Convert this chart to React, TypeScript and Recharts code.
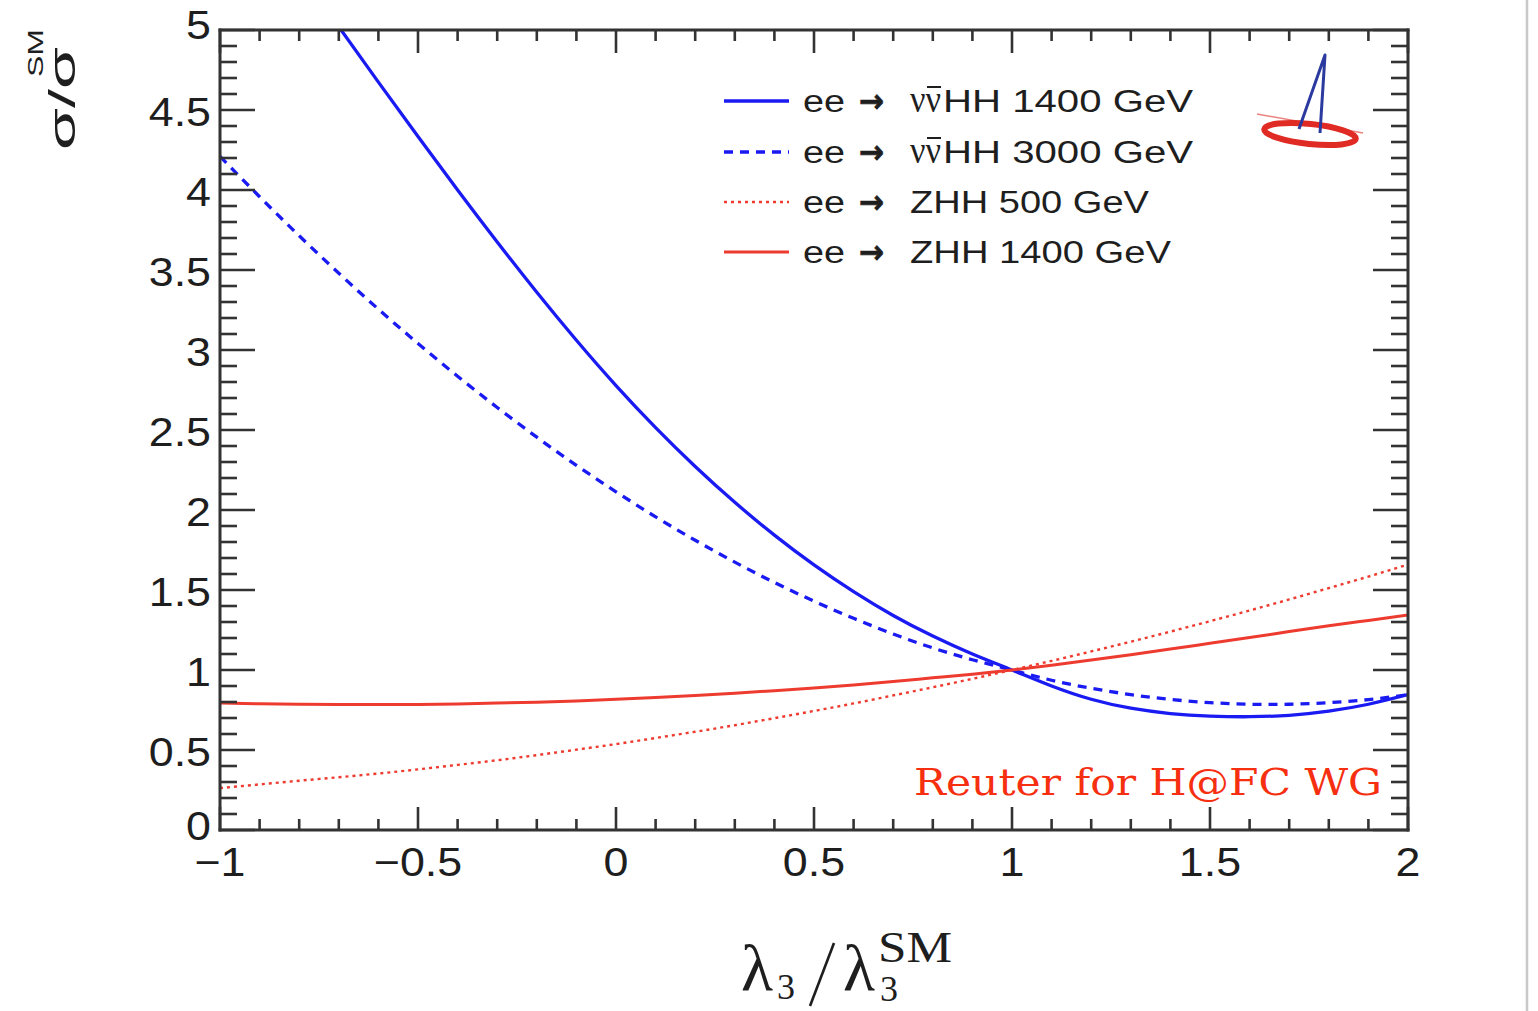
import React from 'react'
import { LineChart, Line, XAxis, YAxis } from 'recharts'

// λ3/λ3^SM grid, read every 0.1
const lambdaGrid = [
  -1, -0.9, -0.8, -0.7, -0.6, -0.5, -0.4, -0.3, -0.2, -0.1,
  0, 0.1, 0.2, 0.3, 0.4, 0.5, 0.6, 0.7, 0.8, 0.9,
  1, 1.1, 1.2, 1.3, 1.4, 1.5, 1.6, 1.7, 1.8, 1.9, 2,
]

// ee -> vvHH 1400 GeV (leaves the frame at the top near -0.69)
const vvHH1400 = [
  null, null, null, 5.02, 4.674, 4.334, 4.0, 3.675, 3.361, 3.061,
  2.778, 2.515, 2.272, 2.048, 1.843, 1.657, 1.49, 1.341, 1.212, 1.1,
  1.0, 0.9, 0.817, 0.761, 0.728, 0.712, 0.708, 0.717, 0.743, 0.786, 0.846,
]
// ee -> vvHH 3000 GeV
const vvHH3000 = [
  4.21, 3.958, 3.714, 3.48, 3.255, 3.041, 2.836, 2.641, 2.455, 2.279,
  2.114, 1.957, 1.811, 1.674, 1.547, 1.43, 1.323, 1.225, 1.138, 1.064,
  1.0, 0.936, 0.886, 0.846, 0.816, 0.796, 0.786, 0.786, 0.796, 0.815, 0.845,
]
// ee -> ZHH 500 GeV
const zhh500 = [
  0.262, 0.285, 0.308, 0.330, 0.353, 0.379, 0.407, 0.436, 0.468, 0.502,
  0.537, 0.575, 0.614, 0.655, 0.699, 0.744, 0.791, 0.841, 0.892, 0.945,
  1.00, 1.057, 1.116, 1.177, 1.240, 1.305, 1.372, 1.441, 1.512, 1.584, 1.659,
]
// ee -> ZHH 1400 GeV
const zhh1400 = [
  0.794, 0.789, 0.786, 0.784, 0.784, 0.785, 0.788, 0.793, 0.799, 0.807,
  0.817, 0.828, 0.840, 0.855, 0.871, 0.888, 0.907, 0.928, 0.951, 0.974,
  1.00, 1.03, 1.062, 1.096, 1.131, 1.167, 1.203, 1.24, 1.276, 1.31, 1.344,
]

const xTicks = [
  -1, -0.9, -0.8, -0.7, -0.6, -0.5, -0.4, -0.3, -0.2, -0.1,
  0, 0.1, 0.2, 0.3, 0.4, 0.5, 0.6, 0.7, 0.8, 0.9,
  1, 1.1, 1.2, 1.3, 1.4, 1.5, 1.6, 1.7, 1.8, 1.9, 2,
]
const yTicks = [
  0, 0.1, 0.2, 0.3, 0.4, 0.5, 0.6, 0.7, 0.8, 0.9,
  1, 1.1, 1.2, 1.3, 1.4, 1.5, 1.6, 1.7, 1.8, 1.9,
  2, 2.1, 2.2, 2.3, 2.4, 2.5, 2.6, 2.7, 2.8, 2.9,
  3, 3.1, 3.2, 3.3, 3.4, 3.5, 3.6, 3.7, 3.8, 3.9,
  4, 4.1, 4.2, 4.3, 4.4, 4.5, 4.6, 4.7, 4.8, 4.9, 5,
]

const BLUE = '#1a1af2'
const RED = '#ee3b30'
const INK = '#1e1e1e'
const FRAME = '#333'
const SANS = '"Liberation Sans", Arial, Helvetica, sans-serif'
const SERIF = '"Liberation Serif", "Times New Roman", serif'

const series = [
  { key: 'vv1400', color: BLUE, dash: undefined, width: 3.3, nu: true, text: 'HH 1400 GeV', len: 250 },
  { key: 'vv3000', color: BLUE, dash: '9 7', width: 3.3, nu: true, text: 'HH 3000 GeV', len: 250 },
  { key: 'zhh500', color: RED, dash: '3 4', width: 2.4, nu: false, text: 'ZHH 500 GeV', len: 239 },
  { key: 'zhh1400', color: RED, dash: undefined, width: 3, nu: false, text: 'ZHH 1400 GeV', len: 261 },
]

const data = lambdaGrid.map((x, i) => ({
  x,
  vv1400: vvHH1400[i],
  vv3000: vvHH3000[i],
  zhh500: zhh500[i],
  zhh1400: zhh1400[i],
}))

const isMajor = (v: number) => Math.abs(v * 2 - Math.round(v * 2)) < 1e-9
const fmt = (v: number) => (v < 0 ? '\u2212' + String(-v) : String(v))

const tickStroke = { stroke: FRAME, strokeWidth: 2.6 }

function BottomTick({ x, y, payload }: any) {
  const major = isMajor(payload.value)
  return (
    <g>
      <line x1={x} x2={x} y1={y} y2={y - (major ? 23 : 11)} {...tickStroke} />
      {major && (
        <text transform={`translate(${x},${y + 46}) scale(1.12,1)`} textAnchor="middle"
          fontFamily={SANS} fontSize={40} fill={INK}>{fmt(payload.value)}</text>
      )}
    </g>
  )
}

function TopTick({ x, y, payload }: any) {
  const major = isMajor(payload.value)
  return <line x1={x} x2={x} y1={y} y2={y + (major ? 23 : 11)} {...tickStroke} />
}

function LeftTick({ x, y, payload }: any) {
  const major = isMajor(payload.value)
  const dy = payload.value === 5 ? 9 : payload.value === 0 ? 10 : 16
  return (
    <g>
      <line x1={x} x2={x + (major ? 35 : 17)} y1={y} y2={y} {...tickStroke} />
      {major && (
        <text transform={`translate(${x - 9},${y + dy}) scale(1.12,1)`} textAnchor="end"
          fontFamily={SANS} fontSize={40} fill={INK}>{fmt(payload.value)}</text>
      )}
    </g>
  )
}

function RightTick({ x, y, payload }: any) {
  const major = isMajor(payload.value)
  return <line x1={x} x2={x - (major ? 35 : 17)} y1={y} y2={y} {...tickStroke} />
}

const axisLine = { stroke: FRAME, strokeWidth: 3, strokeLinecap: 'square' as const }
const legendRows = [101, 152, 202, 252]

export default function App() {
  return (
    <div style={{ position: 'absolute', left: 0, top: 0, width: 1538, height: 1011, background: '#fff' }}>
      <LineChart width={1538} height={1011} data={data} margin={{ top: 0, right: 0, bottom: 0, left: 0 }}>
        <XAxis dataKey="x" type="number" domain={[-1, 2]} ticks={xTicks} interval={0} allowDataOverflow
          height={181} tickSize={0} tickMargin={0} axisLine={axisLine} tick={BottomTick} />
        <XAxis xAxisId="top" dataKey="x" orientation="top" type="number" domain={[-1, 2]} ticks={xTicks}
          interval={0} allowDataOverflow height={30} tickSize={0} tickMargin={0} axisLine={axisLine}
          tick={TopTick} />
        <YAxis type="number" domain={[0, 5]} ticks={yTicks} interval={0} allowDataOverflow width={220}
          tickSize={0} tickMargin={0} axisLine={axisLine} tick={LeftTick} />
        <YAxis yAxisId="right" orientation="right" type="number" domain={[0, 5]} ticks={yTicks} interval={0}
          allowDataOverflow width={130} tickSize={0} tickMargin={0} axisLine={axisLine} tick={RightTick} />
        {series.map(s => (
          <Line key={s.key} dataKey={s.key} type="natural" stroke={s.color} strokeWidth={s.width}
            strokeDasharray={s.dash} dot={false} activeDot={false} isAnimationActive={false} connectNulls={false} />
        ))}
      </LineChart>

      <svg width={1538} height={1011} style={{ position: 'absolute', left: 0, top: 0, pointerEvents: 'none' }}>
        {/* y title */}
        <g transform="translate(75,0) rotate(-90)">
          <text x={-150} y={0} fontFamily={SANS} fontSize={36} fill={INK} textLength={103}
            lengthAdjust="spacingAndGlyphs">σ/σ</text>
          <text x={-77} y={-32} fontFamily={SANS} fontSize={22} fill={INK} textLength={48}
            lengthAdjust="spacingAndGlyphs">SM</text>
        </g>

        {/* x title */}
        <g fontFamily={SERIF} fill={INK}>
          <text x={741} y={990} fontSize={66}>λ</text>
          <text x={777} y={999} fontSize={36}>3</text>
          <line x1={834} y1={943} x2={810} y2={1006} stroke={INK} strokeWidth={2.6} />
          <text x={843} y={990} fontSize={66}>λ</text>
          <text x={878} y={962} fontSize={44} textLength={74} lengthAdjust="spacingAndGlyphs">SM</text>
          <text x={880} y={1001} fontSize={36}>3</text>
        </g>

        {/* legend */}
        {series.map((s, i) => {
          const cy = legendRows[i]
          return (
            <g key={s.key}>
              <line x1={724} x2={789} y1={cy} y2={cy} stroke={s.color} strokeWidth={s.width}
                strokeDasharray={s.dash} />
              <text x={803} y={cy + 11} fontFamily={SANS} fontSize={31} fill={INK} textLength={42}
                lengthAdjust="spacingAndGlyphs">ee</text>
              <text x={859} y={cy + 11} fontFamily='"DejaVu Sans", sans-serif' fontWeight="bold"
                fontSize={32} fill={INK} stroke={INK} strokeWidth={0.8} textLength={25}
                lengthAdjust="spacingAndGlyphs">→</text>
              {s.nu ? (
                <>
                  <text x={910} y={cy + 11} fontFamily={SERIF} fontSize={38} fill={INK} textLength={31}
                    lengthAdjust="spacingAndGlyphs">νν</text>
                  <line x1={927} x2={941} y1={cy - 14} y2={cy - 14} stroke={INK} strokeWidth={2} />
                  <text x={943} y={cy + 11} fontFamily={SANS} fontSize={31} fill={INK} textLength={s.len}
                    lengthAdjust="spacingAndGlyphs">{s.text}</text>
                </>
              ) : (
                <text x={910} y={cy + 11} fontFamily={SANS} fontSize={31} fill={INK} textLength={s.len}
                  lengthAdjust="spacingAndGlyphs">{s.text}</text>
              )}
            </g>
          )
        })}

        {/* logo */}
        <line x1={1257} y1={114} x2={1363} y2={133} stroke="#e03028" strokeWidth={1.5} opacity={0.6} />
        <ellipse cx={1310} cy={134} rx={46} ry={10} transform="rotate(6 1310 134)" fill="none"
          stroke="#e02a24" strokeWidth={6} />
        <polyline points="1299,129 1325,55 1320,133" fill="none" stroke="#2b3a9e" strokeWidth={3}
          strokeLinejoin="round" />

        {/* credit */}
        <text x={914} y={795} fontFamily='"DejaVu Serif", serif' fontSize={38} fill="#f52f0f"
          textLength={468} lengthAdjust="spacingAndGlyphs">Reuter for H@FC WG</text>

        {/* page edge */}
        <line x1={1527} x2={1527} y1={0} y2={1011} stroke="#c8c8c8" strokeWidth={2.5} />
      </svg>
    </div>
  )
}
